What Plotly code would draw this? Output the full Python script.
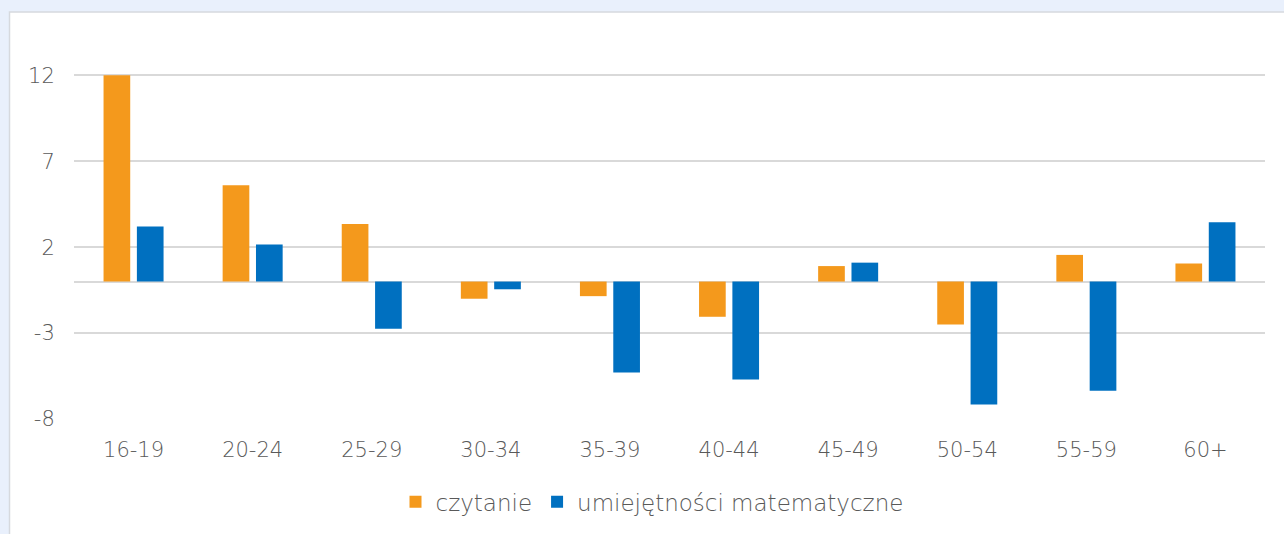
import plotly.graph_objects as go

# age groups
groups = ['16-19', '20-24', '25-29', '30-34', '35-39',
          '40-44', '45-49', '50-54', '55-59', '60+']

czytanie = [12.0, 5.6, 3.35, -1.0, -0.85, -2.05, 0.9, -2.5, 1.55, 1.05]
matematyka = [3.2, 2.15, -2.75, -0.45, -5.3, -5.7, 1.1, -7.15, -6.35, 3.45]

yticks = [12, 7, 2, -3, -8]
ylabels = ['12', '7', '2', '-3', '-8']

W, H = 1284, 534
L, R, T, B = 74, 19, 40.6, 115

fig = go.Figure()
fig.add_trace(go.Bar(x=groups, y=czytanie, name='czytanie',
                     marker=dict(color='#F4991C', line=dict(width=0))))
fig.add_trace(go.Bar(x=groups, y=matematyka, name='umiejętności matematyczne',
                     marker=dict(color='#0070C0', line=dict(width=0))))

pw = W - L - R
ph = H - T - B
def px_x(p):
    return (p - L) / pw
def px_y(p):
    return (H - B - p) / ph

# white panel with light border on blue background
fig.add_shape(type='rect', xref='paper', yref='paper', layer='below',
              x0=px_x(9.5), x1=px_x(1300), y0=px_y(560), y1=px_y(11.5),
              fillcolor='white', line=dict(color='#d6d9de', width=1.5))

fnt = dict(family='DejaVu Sans', size=21, color='#595959', weight=200)
legfnt = dict(family='DejaVu Sans', size=23, color='#595959', weight=200)

fig.update_layout(
    width=W, height=H,
    margin=dict(l=L, r=R, t=T, b=B, autoexpand=False),
    paper_bgcolor='#E9F0FC',
    plot_bgcolor='rgba(0,0,0,0)',
    barmode='group', bargap=0.44, bargroupgap=0.2,
    font=fnt,
    showlegend=True,
    legend=dict(orientation='h', x=px_x(652), xanchor='center', y=px_y(502),
                yanchor='middle', font=legfnt, bgcolor='rgba(0,0,0,0)',
                itemwidth=30, traceorder='normal'),
    xaxis=dict(showgrid=False, showline=False, ticks='outside', ticklen=12,
               tickcolor='rgba(0,0,0,0)', tickfont=fnt, automargin=False),
    yaxis=dict(range=[-8, 14], tickvals=yticks, ticktext=ylabels,
               showgrid=True, gridcolor='#d9d9d9', gridwidth=2,
               zeroline=True, zerolinecolor='#d9d9d9', zerolinewidth=2,
               ticks='outside', ticklen=14, tickcolor='rgba(0,0,0,0)',
               tickfont=fnt, automargin=False),
)

fig.write_html('out.html', config={'displayModeBar': False},
               post_script="document.body.style.margin='0';"
                           "document.body.style.background='#E9F0FC';")
